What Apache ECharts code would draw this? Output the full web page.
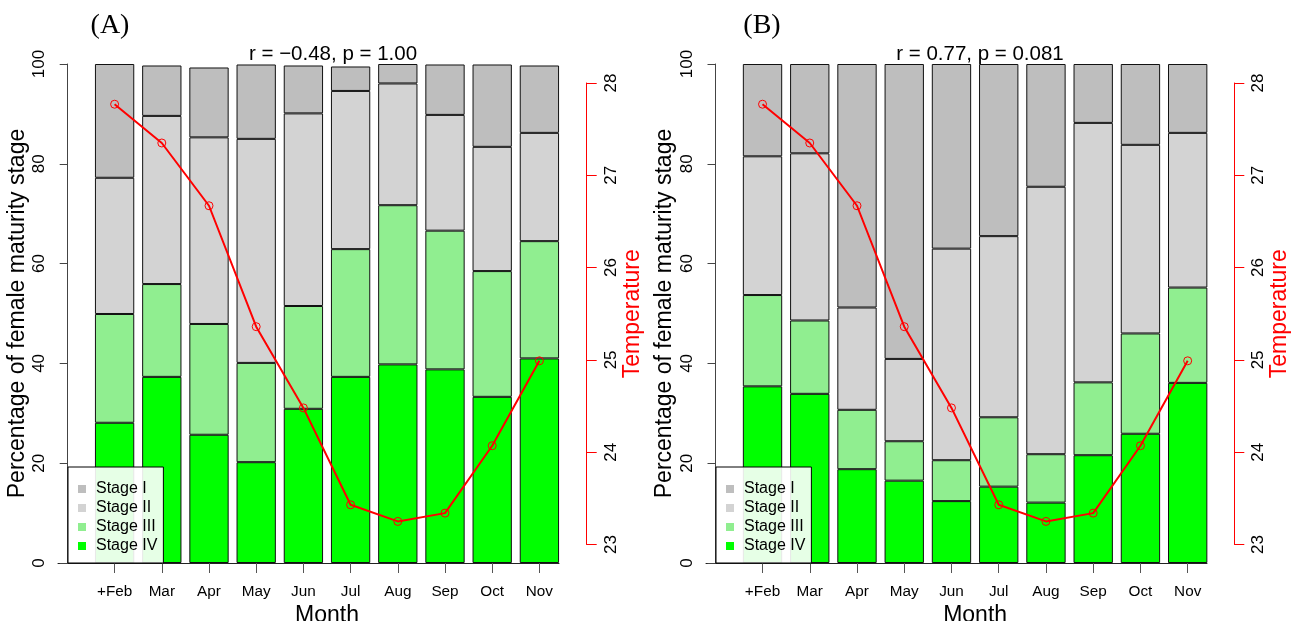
<!DOCTYPE html>
<html>
<head>
<meta charset="utf-8">
<script src="https://cdn.jsdelivr.net/npm/echarts@6/dist/echarts.min.js"></script>
<style>
  html, body { margin: 0; padding: 0; background: #ffffff; }
  #chart { width: 1299px; height: 621px; }
</style>
</head>
<body>
<div id="chart"></div>
<script>
// Months sampled (first month carries a "+" marker)
const months = ['+Feb', 'Mar', 'Apr', 'May', 'Jun', 'Jul', 'Aug', 'Sep', 'Oct', 'Nov'];

// Mean monthly water temperature (right axis)
const temperature = [27.77, 27.35, 26.67, 25.36, 24.48, 23.43, 23.25, 23.34, 24.07, 24.99];

// Stage labels and fills
const stageNames = ['Stage I', 'Stage II', 'Stage III', 'Stage IV'];
const stageColors = ['#bebebe', '#d3d3d3', '#90ee90', '#00ff00'];

// Panel (A): percentage of females in each maturity stage
const panelA_stageI   = [22.8, 10.1, 14.0, 14.9, 9.6, 4.9, 3.9, 10.1, 16.5, 13.5];
const panelA_stageII  = [27.3, 33.7, 37.4, 44.9, 38.6, 31.7, 24.4, 23.2, 24.9, 21.7];
const panelA_stageIII = [21.8, 18.6, 22.2, 19.9, 20.6, 25.6, 31.9, 27.8, 25.2, 23.5];
const panelA_stageIV  = [28.1, 37.3, 25.7, 20.2, 30.9, 37.3, 39.8, 38.8, 33.3, 41.0];

// Panel (B): percentage of females in each maturity stage
const panelB_stageI   = [18.5, 17.9, 48.8, 59.1, 37.0, 34.5, 24.6, 11.8, 16.2, 13.8];
const panelB_stageII  = [27.8, 33.5, 20.5, 16.5, 42.4, 36.3, 53.6, 52.0, 37.8, 31.0];
const panelB_stageIII = [18.3, 14.7, 11.9, 7.9, 8.2, 13.9, 9.7, 14.6, 20.1, 19.1];
const panelB_stageIV  = [35.4, 33.9, 18.8, 16.5, 12.4, 15.3, 12.1, 21.6, 25.9, 36.1];

// Panel headings and correlation notes
const panelLabels = ['(A)', '(B)'];
const corrNotes = ['r = \u22120.48, p = 1.00', 'r = 0.77, p = 0.081'];

// Axis ranges
const pctRange = [0, 100, 20];
const tempRange = [23, 28, 1];

const W = 1299, H = 621;
const FONT = 'Liberation Sans, Arial, Helvetica, sans-serif';

// Layout of each panel (pixel geometry only)
const layouts = [
  { barLeft: 91,    barRight: 563,    axisOffL: 23.3, axisOffR: 23.7, baseLeft: 58,  baseRight: 559,  legendLeft: 68,  headX: 105, noteX: 328 },
  { barLeft: 738.9, barRight: 1211.3, axisOffL: 23.4, axisOffR: 23.0, baseLeft: 706, baseRight: 1207, legendLeft: 716, headX: 757, noteX: 975 }
];
const plotTop = 64, plotBottom = 563;
const tempTop = 83, tempBottom = 544.5;

const stageSets = [
  [panelA_stageI, panelA_stageII, panelA_stageIII, panelA_stageIV],
  [panelB_stageI, panelB_stageII, panelB_stageIII, panelB_stageIV]
];

const option = {
  animation: false,
  backgroundColor: '#ffffff',
  textStyle: { fontFamily: FONT, color: '#000' },
  title: [],
  legend: [],
  grid: [],
  xAxis: [],
  yAxis: [],
  series: []
};

layouts.forEach((L, p) => {
  const g0 = option.grid.length;
  // bars grid
  option.grid.push({ left: L.barLeft, right: W - L.barRight, top: plotTop, bottom: H - plotBottom, outerBoundsMode: 'none', containLabel: false });
  // temperature grid
  option.grid.push({ left: L.barLeft, right: W - L.barRight, top: tempTop, bottom: H - tempBottom, outerBoundsMode: 'none', containLabel: false });
  // baseline grid
  option.grid.push({ left: L.baseLeft, right: W - L.baseRight, top: plotTop, bottom: H - plotBottom, outerBoundsMode: 'none', containLabel: false });

  const x0 = option.xAxis.length;
  option.xAxis.push({
    type: 'category', gridIndex: g0, data: months, boundaryGap: true,
    axisLine: { show: false },
    axisTick: { show: true, alignWithLabel: true, length: 10, lineStyle: { color: '#555', width: 1 } },
    axisLabel: { fontSize: 15.3, color: '#000', margin: 21, interval: 0 },
    name: 'Month', nameLocation: 'middle', nameGap: 26,
    nameTextStyle: { fontSize: 23, color: '#000' },
    splitLine: { show: false }
  });
  option.xAxis.push({
    type: 'category', gridIndex: g0 + 1, data: months, boundaryGap: true, show: false
  });
  option.xAxis.push({
    type: 'value', gridIndex: g0 + 2, min: 0, max: 1,
    axisLine: { show: true, lineStyle: { color: '#222', width: 1 } },
    axisTick: { show: false }, axisLabel: { show: false }, splitLine: { show: false }
  });

  const y0 = option.yAxis.length;
  option.yAxis.push({
    type: 'value', gridIndex: g0, min: pctRange[0], max: pctRange[1], interval: pctRange[2],
    position: 'left', offset: L.axisOffL,
    axisLine: { show: true, lineStyle: { color: '#444', width: 1 } },
    axisTick: { show: true, length: 8, lineStyle: { color: '#444', width: 1 } },
    axisLabel: { fontSize: 17, color: '#000', rotate: 90, margin: 20 },
    splitLine: { show: false },
    name: 'Percentage of female maturity stage', nameLocation: 'middle', nameGap: 39, nameRotate: 90,
    nameTextStyle: { fontSize: 23, color: '#000' }
  });
  option.yAxis.push({
    type: 'value', gridIndex: g0 + 1, min: tempRange[0], max: tempRange[1], interval: tempRange[2],
    position: 'right', offset: L.axisOffR,
    axisLine: { show: true, lineStyle: { color: '#ff0000', width: 1 } },
    axisTick: { show: true, length: 10, lineStyle: { color: '#ff0000', width: 1 } },
    axisLabel: { fontSize: 17, color: '#000', rotate: 90, margin: 16 },
    splitLine: { show: false },
    name: 'Temperature', nameLocation: 'middle', nameGap: 34, nameRotate: 90,
    nameTextStyle: { fontSize: 23, color: '#ff0000' }
  });
  option.yAxis.push({ type: 'value', gridIndex: g0 + 2, show: false, min: 0, max: 1 });

  // stacked bars, bottom stage first
  const sets = stageSets[p];
  for (let s = 3; s >= 0; s--) {
    option.series.push({
      type: 'bar', name: stageNames[s], stack: 'stages' + p,
      xAxisIndex: x0, yAxisIndex: y0,
      data: sets[s], barWidth: '83.3%',
      itemStyle: { color: stageColors[s], borderColor: '#111', borderWidth: 1 },
      emphasis: { disabled: true }
    });
  }

  // temperature line
  option.series.push({
    type: 'line', name: 'Temperature ' + p,
    xAxisIndex: x0 + 1, yAxisIndex: y0 + 1,
    data: temperature,
    symbol: 'circle', symbolSize: 8, showSymbol: true,
    lineStyle: { color: '#ff0000', width: 2 },
    itemStyle: { color: 'rgba(255,255,255,0)', borderColor: '#ff0000', borderWidth: 1 },
    z: 5, emphasis: { disabled: true }
  });

  option.legend.push({
    data: stageNames.map(n => ({ name: n, icon: 'rect', itemStyle: { borderWidth: 0 } })),
    orient: 'vertical', left: L.legendLeft, top: 467,
    itemWidth: 8, itemHeight: 8, itemGap: 3,
    padding: [14, 6, 9, 10],
    backgroundColor: 'rgba(255,255,255,0.9)',
    borderColor: '#000', borderWidth: 1, borderRadius: 0,
    itemStyle: { borderWidth: 0 },
    textStyle: { fontSize: 16, color: '#000', padding: [0, 0, 0, 5] },
    selectedMode: false
  });

  option.title.push({
    text: panelLabels[p], left: L.headX, top: 7, textAlign: 'center',
    textStyle: { fontFamily: 'Liberation Serif, DejaVu Serif, serif', fontSize: 28, fontWeight: 'normal', color: '#000' }
  });
  option.title.push({
    text: corrNotes[p], left: L.noteX, top: 39, textAlign: 'center',
    textStyle: { fontFamily: FONT, fontSize: 20.5, fontWeight: 'normal', color: '#000' }
  });
});

const chart = echarts.init(document.getElementById('chart'), null, { renderer: 'canvas', width: W, height: H });
chart.setOption(option);
</script>
</body>
</html>
